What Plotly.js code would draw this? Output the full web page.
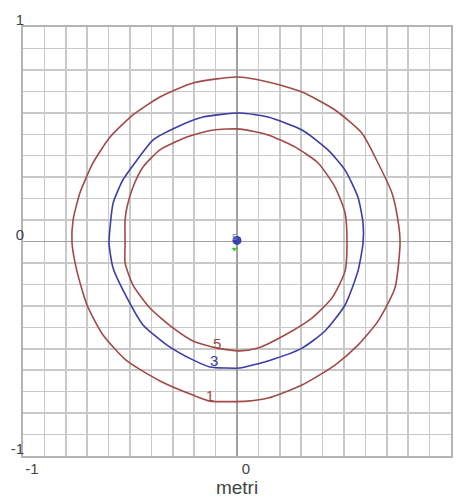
<!DOCTYPE html>
<html>
<head>
<meta charset="utf-8">
<script src="https://cdn.plot.ly/plotly-3.0.1.min.js"></script>
<style>html,body{margin:0;padding:0;background:#fff;}#chart{width:460px;height:498px;}</style>
</head>
<body>
<div id="chart"></div>
<script>
// Contour 1 (outer)
var c1x = [0.000,-0.206,-0.360,-0.486,-0.593,-0.673,-0.734,-0.766,-0.771,-0.748,-0.701,-0.626,-0.514,-0.360,-0.206,-0.126,0.051,0.145,0.304,0.458,0.565,0.659,0.738,0.762,0.752,0.724,0.659,0.584,0.458,0.304,0.145,0.000];
var c1y = [0.767,0.739,0.674,0.590,0.487,0.366,0.226,0.100,-0.007,-0.138,-0.296,-0.436,-0.557,-0.650,-0.716,-0.744,-0.744,-0.730,-0.669,-0.576,-0.483,-0.371,-0.217,-0.007,0.100,0.226,0.366,0.505,0.613,0.697,0.744,0.767];
// Contour 3 (middle, blue)
var c3x = [0.014,-0.159,-0.280,-0.393,-0.467,-0.533,-0.579,-0.593,-0.598,-0.579,-0.514,-0.439,-0.327,-0.206,-0.126,0.014,0.037,0.145,0.304,0.411,0.505,0.565,0.589,0.589,0.565,0.505,0.425,0.304,0.145,0.014];
var c3y = [0.599,0.580,0.534,0.473,0.380,0.287,0.179,0.068,-0.007,-0.124,-0.263,-0.389,-0.483,-0.552,-0.585,-0.590,-0.585,-0.557,-0.497,-0.417,-0.296,-0.138,-0.007,0.086,0.207,0.333,0.427,0.520,0.580,0.599];
// Contour 5 (inner)
var c5x = [0.014,-0.112,-0.234,-0.360,-0.439,-0.486,-0.514,-0.523,-0.523,-0.523,-0.486,-0.407,-0.299,-0.206,-0.093,0.014,0.098,0.224,0.350,0.444,0.505,0.514,0.505,0.458,0.379,0.271,0.145,0.014];
var c5y = [0.524,0.520,0.487,0.427,0.347,0.254,0.161,0.100,-0.007,-0.100,-0.203,-0.310,-0.403,-0.464,-0.497,-0.510,-0.497,-0.436,-0.357,-0.263,-0.138,-0.007,0.133,0.254,0.366,0.441,0.497,0.524];
// Contour labels
var labelText = ['1','3','5'];
var labelX = [-0.126,-0.107,-0.093];
var labelY = [-0.725,-0.565,-0.485];
// Center marks
var centerText = ['5','3'];
var centerX = [-0.012,0.006];
var centerY = [0.018,-0.002];
var greenX = [-0.012];
var greenY = [-0.035];

var xTicks = [-1,0,1];
var yTicks = [-1,0,1];
var xTickText = ['-1','0','1'];
var yTickText = ['-1','0','1'];

var red = '#a24a46';
var blue = '#3c3ca6';

var traces = [
  {x:c1x, y:c1y, mode:'lines', line:{color:red, width:1.6, shape:'spline', smoothing:0.6}, hoverinfo:'skip'},
  {x:c3x, y:c3y, mode:'lines', line:{color:blue, width:1.6, shape:'spline', smoothing:0.6}, hoverinfo:'skip'},
  {x:c5x, y:c5y, mode:'lines', line:{color:red, width:1.6, shape:'spline', smoothing:0.6}, hoverinfo:'skip'},
  {x:labelX, y:labelY, mode:'text', text:labelText, textfont:{color:[red,blue,red], size:15, family:'Liberation Sans, Arial'}, hoverinfo:'skip'},
  {x:greenX, y:greenY, mode:'markers', marker:{color:'#33cc33', size:5, symbol:'triangle-down'}, hoverinfo:'skip'},
  {x:[0], y:[0.005], mode:'markers', marker:{color:blue, size:9}, hoverinfo:'skip'},
  {x:centerX, y:centerY, mode:'text', text:centerText, textfont:{color:['#6a8adc','#2a5ad0'], size:9, family:'Liberation Sans, Arial'}, hoverinfo:'skip'}
];

var axisCommon = {
  range:[-1,1], showline:true, mirror:true, linecolor:'#b4b4b4', linewidth:2,
  showgrid:true, gridcolor:'#c8c8c8', gridwidth:1.5,
  zeroline:true, zerolinecolor:'#a0a0a0', zerolinewidth:1.8,
  minor:{dtick:0.1, showgrid:true, gridcolor:'#c8c8c8', gridwidth:1.5, ticks:''},
  ticks:'', tickfont:{size:15, color:'#444', family:'Liberation Sans, Arial'},
  fixedrange:true
};

var layout = {
  width:460, height:498,
  margin:{l:23, r:9, t:27, b:42},
  paper_bgcolor:'#fff', plot_bgcolor:'#fff',
  showlegend:false,
  xaxis:Object.assign({}, axisCommon, {tickvals:xTicks, ticktext:xTickText, ticklabelshift:9, ticklabelstandoff:-2,
    title:{text:'metri', font:{size:19, color:'#444', family:'Liberation Sans, Arial'}, standoff:5}}),
  yaxis:Object.assign({}, axisCommon, {tickvals:yTicks, ticktext:yTickText, ticklabelshift:-7, ticklabelstandoff:-6})
};

Plotly.newPlot('chart', traces, layout, {staticPlot:true, displayModeBar:false});
</script>
</body>
</html>
